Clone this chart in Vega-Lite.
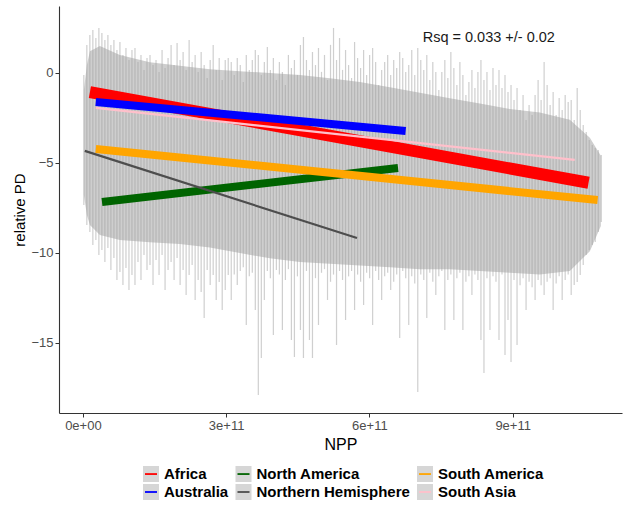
{
  "$schema": "https://vega.github.io/schema/vega-lite/v6.json",
  "width": 563,
  "height": 407,
  "autosize": {"type": "none"},
  "padding": {"left": 59, "top": 6, "right": 7, "bottom": 93},
  "background": "white",
  "config": {
    "view": {"stroke": null},
    "font": "Liberation Sans",
    "axis": {"grid": false, "domainColor": "#333333", "domainWidth": 1.1, "tickColor": "#333333", "tickSize": 4, "labelColor": "#4d4d4d", "labelFontSize": 13, "labelFont": "Liberation Sans", "titleFont": "Liberation Sans", "titleFontWeight": "normal", "titleColor": "#000000"}
  },
  "datasets": {
    "cloud": [
      {"npp":0.020e11,"hi":-0.11,"lo":-7.33},{"npp":0.083e11,"hi":1.56,"lo":-8.44},{"npp":0.146e11,"hi":2.11,"lo":-8.83},{"npp":0.209e11,"hi":2.39,"lo":-9.56},{"npp":0.272e11,"hi":1.94,"lo":-9.28},{"npp":0.335e11,"hi":2.5,"lo":-10.11},{"npp":0.398e11,"hi":2.22,"lo":-9.83},{"npp":0.461e11,"hi":1.83,"lo":-10.5},{"npp":0.524e11,"hi":2.11,"lo":-9.72},{"npp":0.587e11,"hi":1.56,"lo":-10.94},
      {"npp":0.650e11,"hi":1.83,"lo":-10.28},{"npp":0.713e11,"hi":1.28,"lo":-11.5},{"npp":0.776e11,"hi":1.72,"lo":-11.06},{"npp":0.839e11,"hi":1.0,"lo":-11.78},{"npp":0.902e11,"hi":1.39,"lo":-10.83},{"npp":0.965e11,"hi":0.72,"lo":-12.06},{"npp":1.028e11,"hi":1.28,"lo":-11.22},{"npp":1.091e11,"hi":1.39,"lo":-11.78},{"npp":1.154e11,"hi":0.61,"lo":-10.5},{"npp":1.217e11,"hi":1.0,"lo":-11.5},
      {"npp":1.280e11,"hi":0.17,"lo":-10.11},{"npp":1.343e11,"hi":0.83,"lo":-10.94},{"npp":1.406e11,"hi":1.0,"lo":-10.67},{"npp":1.469e11,"hi":0.44,"lo":-11.78},{"npp":1.532e11,"hi":0.72,"lo":-10.39},{"npp":1.595e11,"hi":0.06,"lo":-11.22},{"npp":1.658e11,"hi":1.28,"lo":-10.11},{"npp":1.721e11,"hi":0.28,"lo":-12.06},{"npp":1.784e11,"hi":0.83,"lo":-10.94},{"npp":1.847e11,"hi":1.56,"lo":-10.5},
      {"npp":1.910e11,"hi":0.44,"lo":-11.5},{"npp":1.973e11,"hi":1.67,"lo":-10.28},{"npp":2.036e11,"hi":0.72,"lo":-11.78},{"npp":2.099e11,"hi":1.17,"lo":-10.94},{"npp":2.162e11,"hi":0.17,"lo":-12.33},{"npp":2.225e11,"hi":1.83,"lo":-11.22},{"npp":2.288e11,"hi":0.61,"lo":-10.67},{"npp":2.351e11,"hi":1.0,"lo":-12.61},{"npp":2.414e11,"hi":0.06,"lo":-11.5},{"npp":2.477e11,"hi":1.17,"lo":-12.17},
      {"npp":2.540e11,"hi":0.44,"lo":-13.61},{"npp":2.603e11,"hi":-0.28,"lo":-10.94},{"npp":2.666e11,"hi":0.72,"lo":-11.78},{"npp":2.729e11,"hi":1.56,"lo":-11.22},{"npp":2.792e11,"hi":0.17,"lo":-12.61},{"npp":2.855e11,"hi":0.83,"lo":-11.61},{"npp":2.918e11,"hi":-0.39,"lo":-13.17},{"npp":2.981e11,"hi":0.72,"lo":-12.06},{"npp":3.044e11,"hi":0.83,"lo":-11.22},{"npp":3.107e11,"hi":0.61,"lo":-12.61},
      {"npp":3.170e11,"hi":-0.11,"lo":-11.2},{"npp":3.233e11,"hi":0.83,"lo":-11.78},{"npp":3.296e11,"hi":0.44,"lo":-11.0},{"npp":3.359e11,"hi":-0.5,"lo":-10.8},{"npp":3.422e11,"hi":1.0,"lo":-14.0},{"npp":3.485e11,"hi":0.17,"lo":-11.3},{"npp":3.548e11,"hi":0.72,"lo":-11.1},{"npp":3.611e11,"hi":1.28,"lo":-13.17},{"npp":3.674e11,"hi":1.0,"lo":-17.89},{"npp":3.737e11,"hi":-0.11,"lo":-15.83},
      {"npp":3.800e11,"hi":0.61,"lo":-12.61},{"npp":3.863e11,"hi":1.44,"lo":-11.0},{"npp":3.926e11,"hi":0.17,"lo":-11.4},{"npp":3.989e11,"hi":0.83,"lo":-14.56},{"npp":4.052e11,"hi":-0.39,"lo":-10.94},{"npp":4.115e11,"hi":0.61,"lo":-11.2},{"npp":4.178e11,"hi":0.06,"lo":-14.28},{"npp":4.241e11,"hi":-0.67,"lo":-11.5},{"npp":4.304e11,"hi":1.0,"lo":-10.9},{"npp":4.367e11,"hi":0.28,"lo":-14.83},
      {"npp":4.430e11,"hi":0.72,"lo":-15.78},{"npp":4.493e11,"hi":-0.11,"lo":-11.3},{"npp":4.556e11,"hi":1.56,"lo":-14.28},{"npp":4.619e11,"hi":2.0,"lo":-15.83},{"npp":4.682e11,"hi":0.72,"lo":-11.0},{"npp":4.745e11,"hi":0.17,"lo":-14.83},{"npp":4.808e11,"hi":1.17,"lo":-15.83},{"npp":4.871e11,"hi":0.44,"lo":-11.4},{"npp":4.934e11,"hi":1.39,"lo":-14.0},{"npp":4.997e11,"hi":0.06,"lo":-11.1},
      {"npp":5.060e11,"hi":1.0,"lo":-10.9},{"npp":5.123e11,"hi":-0.39,"lo":-12.61},{"npp":5.186e11,"hi":1.56,"lo":-11.6},{"npp":5.249e11,"hi":2.5,"lo":-11.2},{"npp":5.312e11,"hi":0.72,"lo":-15.11},{"npp":5.375e11,"hi":1.94,"lo":-11.0},{"npp":5.438e11,"hi":0.17,"lo":-11.5},{"npp":5.501e11,"hi":1.28,"lo":-13.72},{"npp":5.564e11,"hi":0.44,"lo":-11.3},{"npp":5.627e11,"hi":-0.28,"lo":-11.0},
      {"npp":5.690e11,"hi":1.72,"lo":-13.17},{"npp":5.753e11,"hi":0.83,"lo":-11.2},{"npp":5.816e11,"hi":0.28,"lo":-11.6},{"npp":5.879e11,"hi":1.28,"lo":-12.89},{"npp":5.942e11,"hi":-0.11,"lo":-11.1},{"npp":6.005e11,"hi":1.0,"lo":-11.4},{"npp":6.068e11,"hi":1.39,"lo":-14.0},{"npp":6.131e11,"hi":0.61,"lo":-11.0},{"npp":6.194e11,"hi":-0.67,"lo":-11.5},{"npp":6.257e11,"hi":0.17,"lo":-12.61},
      {"npp":6.320e11,"hi":0.61,"lo":-11.3},{"npp":6.383e11,"hi":1.0,"lo":-11.1},{"npp":6.446e11,"hi":-0.11,"lo":-12.06},{"npp":6.509e11,"hi":0.72,"lo":-11.6},{"npp":6.572e11,"hi":0.28,"lo":-11.2},{"npp":6.635e11,"hi":1.17,"lo":-14.72},{"npp":6.698e11,"hi":0.83,"lo":-11.0},{"npp":6.761e11,"hi":0.06,"lo":-11.4},{"npp":6.824e11,"hi":0.44,"lo":-14.0},{"npp":6.887e11,"hi":1.28,"lo":-11.3},
      {"npp":6.950e11,"hi":-0.11,"lo":-11.7},{"npp":7.013e11,"hi":1.39,"lo":-17.72},{"npp":7.076e11,"hi":0.72,"lo":-11.2},{"npp":7.139e11,"hi":0.17,"lo":-11.5},{"npp":7.202e11,"hi":1.0,"lo":-13.61},{"npp":7.265e11,"hi":-0.39,"lo":-11.1},{"npp":7.328e11,"hi":0.61,"lo":-11.6},{"npp":7.391e11,"hi":0.06,"lo":-12.33},{"npp":7.454e11,"hi":-0.94,"lo":-11.3},{"npp":7.517e11,"hi":0.06,"lo":-11.0},
      {"npp":7.580e11,"hi":0.72,"lo":-14.28},{"npp":7.643e11,"hi":-0.28,"lo":-11.5},{"npp":7.706e11,"hi":1.17,"lo":-11.2},{"npp":7.769e11,"hi":0.28,"lo":-13.72},{"npp":7.832e11,"hi":-0.67,"lo":-11.4},{"npp":7.895e11,"hi":0.61,"lo":-11.1},{"npp":7.958e11,"hi":-0.11,"lo":-14.28},{"npp":8.021e11,"hi":-1.22,"lo":-11.6},{"npp":8.084e11,"hi":-0.5,"lo":-11.3},{"npp":8.147e11,"hi":0.17,"lo":-12.33},
      {"npp":8.210e11,"hi":-0.83,"lo":-11.2},{"npp":8.273e11,"hi":0.06,"lo":-11.5},{"npp":8.336e11,"hi":0.72,"lo":-14.83},{"npp":8.399e11,"hi":-0.39,"lo":-16.67},{"npp":8.462e11,"hi":0.06,"lo":-11.4},{"npp":8.525e11,"hi":-0.94,"lo":-14.28},{"npp":8.588e11,"hi":0.28,"lo":-11.3},{"npp":8.651e11,"hi":-0.67,"lo":-11.6},{"npp":8.714e11,"hi":0.17,"lo":-14.83},{"npp":8.777e11,"hi":-0.83,"lo":-11.2},
      {"npp":8.840e11,"hi":-0.11,"lo":-15.67},{"npp":8.903e11,"hi":-1.06,"lo":-13.72},{"npp":8.966e11,"hi":-0.67,"lo":-16.06},{"npp":9.029e11,"hi":-1.5,"lo":-11.5},{"npp":9.092e11,"hi":-0.83,"lo":-15.11},{"npp":9.155e11,"hi":-2.06,"lo":-11.8},{"npp":9.218e11,"hi":-1.22,"lo":-11.4},{"npp":9.281e11,"hi":-2.61,"lo":-13.17},{"npp":9.344e11,"hi":-1.78,"lo":-11.6},{"npp":9.407e11,"hi":-2.33,"lo":-11.9},
      {"npp":9.470e11,"hi":-1.22,"lo":-12.61},{"npp":9.533e11,"hi":-0.39,"lo":-11.5},{"npp":9.596e11,"hi":-1.5,"lo":-11.8},{"npp":9.659e11,"hi":0.61,"lo":-12.33},{"npp":9.722e11,"hi":-0.67,"lo":-11.6},{"npp":9.785e11,"hi":-1.78,"lo":-11.4},{"npp":9.848e11,"hi":-1.06,"lo":-13.17},{"npp":9.911e11,"hi":-2.33,"lo":-11.7},{"npp":9.974e11,"hi":-1.39,"lo":-11.3},{"npp":10.037e11,"hi":-2.06,"lo":-12.61},
      {"npp":10.100e11,"hi":-1.22,"lo":-11.5},{"npp":10.163e11,"hi":-1.61,"lo":-11.2},{"npp":10.226e11,"hi":-1.5,"lo":-12.33},{"npp":10.289e11,"hi":-2.61,"lo":-11.78},{"npp":10.352e11,"hi":-0.83,"lo":-11.61},{"npp":10.415e11,"hi":-2.06,"lo":-11.22},{"npp":10.478e11,"hi":-2.89,"lo":-10.67},{"npp":10.541e11,"hi":-3.28,"lo":-10.11},{"npp":10.604e11,"hi":-3.72,"lo":-9.83},{"npp":10.667e11,"hi":-4.0,"lo":-9.56},
      {"npp":10.730e11,"hi":-4.17,"lo":-9.39},{"npp":10.793e11,"hi":-4.28,"lo":-8.83},{"npp":10.856e11,"hi":-4.56,"lo":-8.28}
    ],
    "core": [
      {"npp":0.021e11,"chi":-0.94,"clo":-6.78},{"npp":0.084e11,"chi":0.44,"clo":-7.89},{"npp":0.147e11,"chi":1.2,"clo":-8.44},{"npp":0.356e11,"chi":1.5,"clo":-9.0},{"npp":0.775e11,"chi":1.0,"clo":-9.28},{"npp":1.403e11,"chi":0.6,"clo":-9.4},{"npp":2.031e11,"chi":0.4,"clo":-9.5},{"npp":2.659e11,"chi":0.2,"clo":-9.7},{"npp":3.287e11,"chi":0.1,"clo":-10.0},{"npp":3.916e11,"chi":0.0,"clo":-10.3},{"npp":4.544e11,"chi":-0.11,"clo":-10.5},{"npp":5.172e11,"chi":-0.3,"clo":-10.6},{"npp":5.8e11,"chi":-0.5,"clo":-10.7},{"npp":6.429e11,"chi":-0.8,"clo":-10.8},{"npp":7.057e11,"chi":-1.1,"clo":-10.9},{"npp":7.685e11,"chi":-1.4,"clo":-10.9},{"npp":8.313e11,"chi":-1.7,"clo":-11.0},{"npp":8.941e11,"chi":-2.0,"clo":-11.1},{"npp":9.57e11,"chi":-2.2,"clo":-11.2},{"npp":10.198e11,"chi":-2.6,"clo":-11.0},{"npp":10.617e11,"chi":-3.6,"clo":-9.9},{"npp":10.847e11,"chi":-4.6,"clo":-8.5}
    ],
    "fits": [
      {"region":"Africa","npp":0.147e11,"pd":-1.06},{"region":"Africa","npp":10.59e11,"pd":-6.1},
      {"region":"Australia","npp":0.27e11,"pd":-1.61},{"region":"Australia","npp":6.76e11,"pd":-3.22},
      {"region":"North America","npp":0.4e11,"pd":-7.17},{"region":"North America","npp":6.6e11,"pd":-5.28},
      {"region":"Northern Hemisphere","npp":0.04e11,"pd":-4.33},{"region":"Northern Hemisphere","npp":5.74e11,"pd":-9.17},
      {"region":"South America","npp":0.27e11,"pd":-4.22},{"region":"South America","npp":10.78e11,"pd":-7.06},
      {"region":"South Asia","npp":0.27e11,"pd":-1.94},{"region":"South Asia","npp":10.3e11,"pd":-4.83}
    ],
    "note": [{"label": "Rsq = 0.033 +/- 0.02"}]
  },
  "layer": [
    {
      "data": {"name": "core"},
      "mark": {"type": "area", "color": "#c6c6c6", "opacity": 0.85},
      "encoding": {
        "x": {"field": "npp", "type": "quantitative", "scale": {"domain": [-0.5e11, 11.29e11], "nice": false, "zero": false},
              "axis": {"title": "NPP", "titleFontSize": 16, "values": [0, 3e11, 6e11, 9e11], "labelExpr": "datum.value == 0 ? '0e+00' : format(datum.value, '.0e')", "titlePadding": 4}},
        "y": {"field": "chi", "type": "quantitative", "scale": {"domain": [-18.89, 3.72], "nice": false, "zero": false},
              "axis": {"title": "relative PD", "titleFontSize": 15, "values": [-15, -10, -5, 0], "titlePadding": 3}},
        "y2": {"field": "clo"}
      }
    },
    {
      "data": {"name": "cloud"},
      "mark": {"type": "rule", "color": "#a0a0a0", "strokeWidth": 1.2, "opacity": 0.5},
      "encoding": {
        "x": {"field": "npp", "type": "quantitative"},
        "y": {"field": "hi", "type": "quantitative"},
        "y2": {"field": "lo"}
      }
    },
    {
      "data": {"name": "fits"},
      "transform": [{"filter": "datum.region == 'Africa'"}],
      "mark": {"type": "line", "strokeWidth": 12, "strokeCap": "butt"},
      "encoding": {
        "x": {"field": "npp", "type": "quantitative"},
        "y": {"field": "pd", "type": "quantitative"},
        "stroke": {"field": "region", "type": "nominal",
                   "scale": {"domain": ["Africa", "Australia", "North America", "Northern Hemisphere", "South America", "South Asia"],
                             "range": ["#ff0000", "#0000ff", "#006400", "#4d4d4d", "#ffa500", "#ffc0cb"]},
                   "legend": {"title": null, "orient": "none", "legendX": 83, "legendY": 459, "columns": 3, "padding": 0,
                              "symbolType": "M-0.75,0H1V-1H-1V1H1V0Z", "symbolSize": 256, "symbolStrokeWidth": 1.8, "symbolDash": [12, 300], "symbolOpacity": 1, "symbolFillColor": "#d6d6d6",
                              "labelFontSize": 15, "labelFontWeight": "bold", "labelFont": "Liberation Sans", "labelColor": "#000000", "labelOffset": 4, "rowPadding": 0, "columnPadding": 5.5,
                              "encode": {"symbols": {"update": {"fill": {"value": "#d6d6d6"}, "fillOpacity": {"value": 1}, "strokeCap": {"value": "butt"}, "strokeJoin": {"value": "bevel"}}}}}}
      }
    },
    {
      "data": {"name": "fits"},
      "transform": [{"filter": "datum.region == 'Australia' || datum.region == 'North America' || datum.region == 'South America'"}],
      "mark": {"type": "line", "strokeWidth": 8, "strokeCap": "butt"},
      "encoding": {
        "x": {"field": "npp", "type": "quantitative"},
        "y": {"field": "pd", "type": "quantitative"},
        "stroke": {"field": "region", "type": "nominal"}
      }
    },
    {
      "data": {"name": "fits"},
      "transform": [{"filter": "datum.region == 'Northern Hemisphere' || datum.region == 'South Asia'"}],
      "mark": {"type": "line", "strokeWidth": 2.2, "strokeCap": "butt"},
      "encoding": {
        "x": {"field": "npp", "type": "quantitative"},
        "y": {"field": "pd", "type": "quantitative"},
        "stroke": {"field": "region", "type": "nominal"}
      }
    },
    {
      "data": {"name": "note"},
      "mark": {"type": "text", "fontSize": 14.5, "color": "#1a1a1a", "font": "Liberation Sans"},
      "encoding": {
        "x": {"datum": 8.5e11, "type": "quantitative"},
        "y": {"datum": 1.94, "type": "quantitative"},
        "text": {"field": "label", "type": "nominal"}
      }
    }
  ]
}
